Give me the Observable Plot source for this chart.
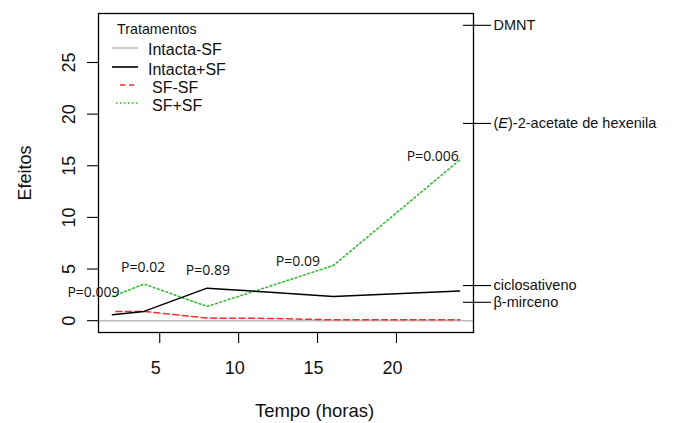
<!DOCTYPE html>
<html>
<head>
<meta charset="utf-8">
<script src="https://cdn.jsdelivr.net/npm/d3@7"></script>
<script src="https://cdn.jsdelivr.net/npm/@observablehq/plot@0.6"></script>
<style>
  html, body { margin: 0; padding: 0; background: #fff; }
  #chart { width: 675px; height: 423px; }
</style>
</head>
<body>
<div id="chart"></div>
<script>
// ---- data ----
const time = [2, 4, 8, 12, 16, 24];
const intactaMenosSF = [0, 0, 0, 0, 0, 0];          // baseline at 0 across the panel
const intactaMaisSF  = [0.58, 0.9, 3.15, 2.75, 2.35, 2.88];
const sfMenosSF      = [0.88, 0.9, 0.25, 0.22, 0.08, 0.08];
const sfMaisSF       = [2.35, 3.55, 1.38, 3.35, 5.35, 15.55];

const xTicks = [5, 10, 15, 20];
const yTicks = [0, 5, 10, 15, 20, 25];

const compoundNames  = ["DMNT", "(E)-2-acetate de hexenila", "ciclosativeno", "β-mirceno"];
const compoundValues = [28.6, 19.1, 3.4, 1.78];

const pLabels = ["P=0.009", "P=0.02", "P=0.89", "P=0.09", "P=0.006"];
const pX      = [0.8, 3.95, 8.05, 13.75, 22.3];
const pY      = [2.75, 5.15, 4.9, 5.75, 15.9];

const seriesNames  = ["Intacta-SF", "Intacta+SF", "SF-SF", "SF+SF"];
const seriesColors = ["#bebebe", "#000000", "#ff2a2a", "#2fbf2f"];

// ---- tables ----
const toRows = (vals) => time.map((t, i) => ({t, v: vals[i]}));
const compRows = compoundValues.map((v, i) => ({v, name: compoundNames[i]}));
const compMap = new Map(compRows.map(d => [d.v, d.name]));
const pRows = pLabels.map((s, i) => ({x: pX[i], y: pY[i], s}));

const chart = Plot.plot({
  width: 675,
  height: 423,
  marginLeft: 98,
  marginRight: 202,
  marginTop: 13,
  marginBottom: 91,
  style: {fontFamily: "'Liberation Sans', Arial, sans-serif", background: "#fff"},
  x: {domain: [1.12, 24.88], axis: null},
  y: {domain: [-1.144, 29.744], axis: null},
  marks: [
    // Intacta-SF: constant zero, drawn across the panel
    Plot.ruleY([intactaMenosSF[0]], {stroke: seriesColors[0], strokeWidth: 1.4}),
    Plot.line(toRows(sfMenosSF), {x: "t", y: "v", stroke: seriesColors[2], strokeWidth: 1.5, strokeDasharray: "6,3.5", strokeDashoffset: 6}),
    Plot.line(toRows(sfMaisSF), {x: "t", y: "v", stroke: seriesColors[3], strokeWidth: 1.6, strokeDasharray: "1.6,2.8"}),
    Plot.line(toRows(intactaMaisSF), {x: "t", y: "v", stroke: seriesColors[1], strokeWidth: 1.5}),
    Plot.frame({stroke: "#000", strokeWidth: 1.3}),
    // left axis
    Plot.axisY(yTicks, {anchor: "left", tickSize: 11, tickFormat: () => "", strokeWidth: 1.1}),
    Plot.text(yTicks, {y: d => d, text: d => String(d), frameAnchor: "left", dx: -29.5, rotate: -90,
      fontSize: 18, textAnchor: "middle", lineAnchor: "middle", fill: "#111"}),
    Plot.text(["Efeitos"], {frameAnchor: "left", dx: -73, rotate: -90, fontSize: 18,
      textAnchor: "middle", lineAnchor: "middle", fill: "#111"}),
    // bottom axis
    Plot.axisX(xTicks, {anchor: "bottom", tickSize: 11, tickFormat: () => "", strokeWidth: 1.1}),
    Plot.text(xTicks, {x: d => d, text: d => String(d), frameAnchor: "bottom", dx: -4, dy: 36,
      fontSize: 18, textAnchor: "middle", lineAnchor: "middle", fill: "#111"}),
    Plot.text(["Tempo (horas)"], {frameAnchor: "bottom", dx: 28.5, dy: 79, fontSize: 18.5,
      textAnchor: "middle", lineAnchor: "middle", fill: "#111"}),
    // right compound axis (ticks crossing the frame)
    Plot.ruleY(compRows, {y: "v", insetLeft: 365, stroke: "#000", strokeWidth: 1.1}),
    Plot.axisY(compoundValues, {anchor: "right", tickSize: 17, tickPadding: 3, strokeWidth: 1.1,
      tickFormat: d => compMap.get(d), fontSize: 14.5, fill: "#111"}),
    // P-value annotations
    Plot.text(pRows, {x: "x", y: "y", text: "s", fontSize: 14, fontFamily: "'Open Sans', sans-serif",
      textAnchor: "middle", lineAnchor: "middle", fill: "#111"})
  ]
});

document.getElementById("chart").appendChild(chart);

// italic E in "(E)-2-acetate de hexenila"
d3.select(chart).selectAll("text").each(function() {
  const t = d3.select(this);
  if (this.childElementCount === 0 && t.text() === compoundNames[1]) {
    t.text("");
    t.append("tspan").text("(");
    t.append("tspan").attr("font-style", "italic").text("E");
    t.append("tspan").text(")-2-acetate de hexenila");
  }
});

// legend (inside the panel, top-left)
const svg = d3.select(chart);
const lg = svg.append("g")
  .attr("font-family", "'Liberation Sans', Arial, sans-serif")
  .attr("text-anchor", "start")
  .attr("fill", "#111");
lg.append("text").attr("x", 117).attr("y", 29).attr("dy", "0.35em").attr("font-size", 14.3).text("Tratamentos");
const entries = [
  {name: seriesNames[0], color: seriesColors[0], x1: 112, x2: 138, tx: 148, y: 49, dash: null, w: 1.6},
  {name: seriesNames[1], color: seriesColors[1], x1: 112, x2: 138, tx: 148, y: 69.5, dash: null, w: 1.6},
  {name: seriesNames[2], color: seriesColors[2], x1: 120, x2: 136, tx: 152, y: 87.5, dash: "5,4", w: 1.4},
  {name: seriesNames[3], color: seriesColors[3], x1: 116, x2: 138, tx: 152, y: 105.5, dash: "1.5,2.5", w: 1.4}
];
entries.forEach(e => {
  const yl = e.name === "Intacta-SF" ? e.y - 1 : e.y - 2.5;
  lg.append("line").attr("x1", e.x1).attr("x2", e.x2).attr("y1", yl).attr("y2", yl)
    .attr("stroke", e.color).attr("stroke-width", e.w).attr("stroke-dasharray", e.dash);
  lg.append("text").attr("x", e.tx).attr("y", e.y).attr("dy", "0.35em").attr("font-size", 16).text(e.name);
});
</script>
</body>
</html>
